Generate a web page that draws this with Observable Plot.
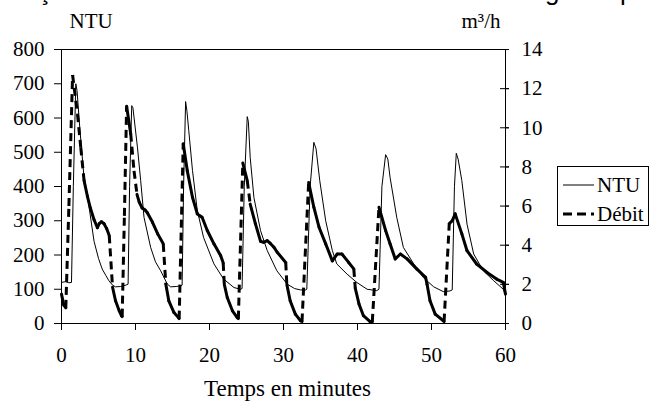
<!DOCTYPE html>
<html>
<head>
<meta charset="utf-8">
<script src="https://cdn.jsdelivr.net/npm/d3@7"></script>
<script src="https://cdn.jsdelivr.net/npm/@observablehq/plot@0.6"></script>
<style>
  html, body { margin: 0; padding: 0; background: #fff; }
  #wrap { position: relative; width: 649px; height: 403px; overflow: hidden; font-family: "Liberation Serif", "Times New Roman", serif; }
  .cut { position: absolute; top: -22px; font-family: "Liberation Sans", Arial, sans-serif; font-size: 26px; line-height: 26px; color: #000; }
  #legend { position: absolute; left: 557px; top: 166px; width: 90px; height: 58px; border: 1px solid #000; background: #fff; font-size: 21px; font-family: "Liberation Serif", "Times New Roman", serif; }
  #legend .row { position: absolute; left: 5px; height: 24px; display: flex; align-items: center; }
  #legend svg { display: block; margin-right: 3px; }
</style>
</head>
<body>
<div id="wrap">
  <div id="chart"></div>
  <div class="cut" style="left:38px">ç</div>
  <div class="cut" style="left:545px">g</div>
  <div class="cut" style="left:620px">p</div>
  <div id="legend">
    <div class="row" style="top:6px"><svg width="31" height="6"><line x1="0" y1="3" x2="31" y2="3" stroke="#000" stroke-width="1"/></svg><span>NTU</span></div>
    <div class="row" style="top:35px"><svg width="31" height="6"><line x1="0" y1="3" x2="31" y2="3" stroke="#000" stroke-width="3" stroke-dasharray="9,5"/></svg><span>Débit</span></div>
  </div>
</div>
<script>
// Temps (minutes) et turbidité (NTU)
const ntuT = [0,0.5,1.0,1.35,1.6,1.93,2.1,2.5,3.0,3.66,4.4,5.0,5.5,6.0,6.4,6.9,7.3,8.0,8.7,9.0,
  9.2,9.49,9.65,10.26,10.7,11.15,12.05,12.7,13.4,14.3,14.75,15.5,16.1,16.3,
  16.5,16.77,16.95,17.2,17.7,18.35,19.2,20.6,21.9,23.3,24.2,24.4,
  24.7,25.1,25.25,25.5,26.0,26.9,27.8,29.1,30.5,31.5,32.3,33.0,33.15,
  33.6,34.1,34.4,34.9,35.7,36.6,37.2,38.6,39.9,41.3,42.6,42.9,
  43.3,43.8,44.1,44.4,45.3,46.2,47.6,48.9,50.3,51.6,52.5,52.8,
  53.1,53.35,53.6,54.1,54.8,55.7,57.0,58.4,59.7,60];
const ntuV = [120,122,119,120,400,700,680,563,437,350,240,190,159,140,125,112,107,108,112,115,
  400,636,630,515,417,310,222,180,154,115,107,108,110,112,
  400,648,620,563,447,330,251,174,130,105,100,102,
  400,604,590,485,368,271,213,154,115,102,98,98,100,
  400,529,510,417,300,213,174,144,120,100,96,100,
  400,493,480,427,310,222,174,134,107,93,95,98,
  400,497,480,417,290,203,154,125,100,85];

// Temps (minutes) et débit (m3/h)
const debitT = [0,0.3,0.58,1.0,1.5,2.16,2.6,3.05,3.5,3.9,4.4,4.85,5.1,5.4,5.75,6.1,6.45,6.9,7.3,7.8,8.1,8.2,
  8.5,8.8,9.35,9.8,10.2,10.5,10.9,11.3,11.6,12.3,13.0,13.75,14.1,14.5,15.2,15.8,15.9,
  16.45,17.0,17.7,18.35,18.7,19.0,19.7,20.6,21.5,21.85,22.0,22.4,23.1,23.75,23.9,
  24.5,25.1,25.5,26.2,26.9,27.3,27.8,28.2,28.7,29.15,30.3,30.45,30.9,31.6,32.3,32.5,
  33.4,34.1,34.8,35.7,36.6,37.25,37.9,38.8,39.5,39.7,40.2,40.8,41.7,42.0,
  42.9,43.8,44.4,45.1,45.8,46.7,48.0,49.2,49.4,49.8,50.5,51.6,51.7,
  52.4,52.8,53.2,54.1,54.8,56.1,57.5,58.8,59.7,60];
const debitV = [1.5,0.95,0.8,6.0,12.7,10.7,9.0,7.3,6.5,5.9,5.3,4.9,5.1,5.2,5.1,4.85,4.5,1.85,1.16,0.65,0.4,0.35,
  5.5,11.1,9.7,7.8,6.6,6.2,5.9,5.8,5.66,5.17,4.58,4.07,2.0,1.16,0.56,0.3,0.25,
  9.19,7.8,6.45,5.6,5.5,5.43,4.75,4.07,3.47,3.1,2.0,1.33,0.65,0.3,0.25,
  8.2,7.3,6.1,5.1,4.2,4.15,4.23,4.1,3.9,3.64,3.12,2.0,1.16,0.48,0.14,0.1,
  7.2,5.94,4.92,4.07,3.2,3.55,3.55,3.12,2.79,1.8,1.0,0.4,0.1,0.08,
  5.94,4.75,4.07,3.3,3.55,3.3,2.79,2.36,2.0,1.16,0.48,0.14,0.1,
  5.1,5.25,5.6,4.58,3.72,3.04,2.61,2.27,2.1,1.5];

const xTicks = [0,10,20,30,40,50,60];
const yTicks = [0,100,200,300,400,500,600,700,800];
const y2Ticks = [0,2,4,6,8,10,12,14];
const yMax = 800, y2Max = 14;
const k = yMax / y2Max; // m3/h -> échelle NTU

const ntu = ntuT.map((t, i) => ({t, v: ntuV[i]}));
const debit = debitT.map((t, i) => ({t, v: debitV[i]}));
const segs = d3.pairs(debit).map(([a, b]) => ({
  t1: a.t, v1: a.v * k, t2: b.t, v2: b.v * k,
  steep: Math.abs((b.v - a.v) / (b.t - a.t)) > 3
}));

const serif = "Liberation Serif, Times New Roman, serif";
const fs = 21;
const chart = Plot.plot({
  width: 649,
  height: 403,
  marginLeft: 61,
  marginRight: 144,
  marginTop: 49,
  marginBottom: 80,
  style: {fontFamily: serif, fontSize: fs + "px", background: "#fff", color: "#000"},
  x: {domain: [0, 60]},
  y: {domain: [0, yMax]},
  marks: [
    Plot.frame({stroke: "#000", strokeWidth: 1}),
    Plot.axisX(xTicks, {tickSize: 7, tickPadding: 17, fontSize: fs, fontFamily: serif, label: null, stroke: "#000"}),
    Plot.axisY(yTicks, {anchor: "left", tickSize: 7, tickPadding: 10, fontSize: fs, fontFamily: serif, label: null, stroke: "#000"}),
    Plot.axisY(y2Ticks.map(d => d * k), {anchor: "right", tickSize: 3, tickPadding: 13, fontSize: fs, fontFamily: serif, label: null,
      tickFormat: d => String(Math.round(d / k)), stroke: "#000"}),
    Plot.axisY(y2Ticks.map(d => d * k), {anchor: "right", tickSize: 9, dx: -6, label: null,
      tickFormat: () => "", stroke: "#000"}),
    Plot.line(ntu, {x: "t", y: "v", stroke: "#000", strokeWidth: 1}),
    Plot.link(segs.filter(s => !s.steep), {x1: "t1", y1: "v1", x2: "t2", y2: "v2",
      stroke: "#000", strokeWidth: 3, strokeLinecap: "round"}),
    Plot.link(segs.filter(s => s.steep), {x1: "t1", y1: "v1", x2: "t2", y2: "v2",
      stroke: "#000", strokeWidth: 3, strokeDasharray: "8,5", strokeLinecap: "butt"}),
    Plot.text(["NTU"], {frameAnchor: "top-left", dx: 8, dy: -28, textAnchor: "start", lineAnchor: "middle", fontSize: fs, fontFamily: serif}),
    Plot.text(["m³/h"], {frameAnchor: "top-right", dx: -5, dy: -28, textAnchor: "end", lineAnchor: "middle", fontSize: fs, fontFamily: serif}),
    Plot.text(["Temps en minutes"], {frameAnchor: "bottom", dx: 4, dy: 65, lineAnchor: "middle", fontSize: 23, fontFamily: serif})
  ]
});
document.getElementById("chart").appendChild(chart);
</script>
</body>
</html>
